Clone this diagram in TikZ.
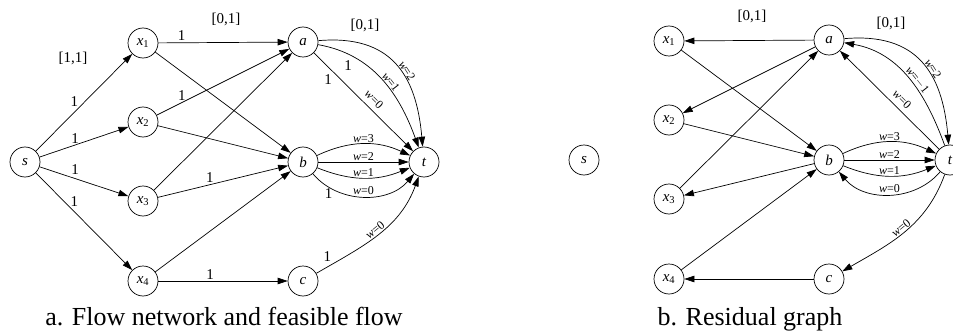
\documentclass[tikz,border=0pt]{standalone}
\usepackage{fontspec}
\setmainfont{Liberation Serif}
\usetikzlibrary{arrows.meta, positioning, calc}

\newcommand{\xn}[1]{\textit{x}\textsubscript{#1}}

\begin{document}
\begin{tikzpicture}[x=1pt, y=1pt,
  vtx/.style={draw, circle, minimum size=30pt, inner sep=0pt, line width=0.7pt, font=\fontsize{15}{15}\selectfont},
  arc/.style={line width=0.7pt, -{Triangle[length=10pt, width=6.5pt]}},
  flw/.style={font=\fontsize{15}{15}\selectfont, inner sep=1.5pt},
  wt/.style={font=\fontsize{12}{12}\selectfont, inner sep=1pt, sloped, above},
  captxt/.style={font=\fontsize{26}{26}\selectfont, anchor=base}]
\useasboundingbox (0,0) rectangle (953,330);

% --- Panel a: flow network and feasible flow ---
\begin{scope}[shift={(0,0)}]
\node[vtx] (s) at (25,168) {\textit{s}};
\node[vtx] (x1) at (143,287) {\xn{1}};
\node[vtx] (x2) at (143,208) {\xn{2}};
\node[vtx] (x3) at (143,129) {\xn{3}};
\node[vtx] (x4) at (143,49) {\xn{4}};
\node[vtx] (a) at (303,288) {\textit{a}};
\node[vtx] (b) at (303,168) {\textit{b}};
\node[vtx] (c) at (303,49) {\textit{c}};
\node[vtx] (t) at (424,168) {\textit{t}};
\node[flw] (lo1) at (73,272) {[1,1]};
\node[flw] (up1) at (226,311) {[0,1]};
\node[flw] (up2) at (365,305) {[0,1]};
\draw[arc] (s) -- node[flw, pos=0.4, above=4pt] {1} (x1);
\draw[arc] (s) -- node[flw, pos=0.4, above] {1} (x2);
\draw[arc] (s) -- node[flw, pos=0.4, above=2pt] {1} (x3);
\draw[arc] (s) -- node[flw, pos=0.4, above=3pt] {1} (x4);
\draw[arc] (x1) -- node[flw, pos=0.18, above] {1} (a);
\draw[arc] (x1) -- (b);
\draw[arc] (x2) -- node[flw, pos=0.19, above] {1} (a);
\draw[arc] (x2) -- (b);
\draw[arc] (x3) -- (a);
\draw[arc] (x3) -- node[flw, pos=0.4, above] {1} (b);
\draw[arc] (x4) -- (b);
\draw[arc] (x4) -- node[flw, pos=0.4, above] {1} (c);
\draw[arc] (a) to[out=5, in=95, looseness=1.25] node[wt, pos=0.58] {\textit{w}=2} (t);
\draw[arc] (a) to[out=-10, in=110] node[flw, pos=0.2, below=5pt] {1} node[wt, pos=0.55] {\textit{w}=1} (t);
\draw[arc] (a) -- node[flw, pos=0.2, below left] {1} node[wt, pos=0.54, above=4pt] {\textit{w}=0} (t);
\draw[arc] (b) to[out=25, in=155] node[wt] {\textit{w}=3} (t);
\draw[arc] (b) -- node[wt] {\textit{w}=2} (t);
\draw[arc] (b) to[out=-22, in=-158] node[wt] {\textit{w}=1} (t);
\draw[arc] (b) to[out=-50, in=-130] node[flw, pos=0.18, below] {1} node[wt] {\textit{w}=0} (t);
\draw[arc] (c) to[out=30, in=-110] node[flw, pos=0.12, above left] {1} node[wt] {\textit{w}=0} (t);
\node[captxt] (capa) at (224,5) {a. Flow network and feasible flow};
\end{scope}

% --- Panel b: residual graph ---
\begin{scope}[shift={(526,2)}]
\node[vtx] (rs) at (58,168) {\textit{s}};
\node[vtx] (rx1) at (143,287) {\xn{1}};
\node[vtx] (rx2) at (143,208) {\xn{2}};
\node[vtx] (rx3) at (143,129) {\xn{3}};
\node[vtx] (rx4) at (143,49) {\xn{4}};
\node[vtx] (ra) at (303,288) {\textit{a}};
\node[vtx] (rb) at (303,168) {\textit{b}};
\node[vtx] (rc) at (303,49) {\textit{c}};
\node[vtx] (rt) at (424,168) {\textit{t}};
\node[flw] (rup1) at (226,312) {[0,1]};
\node[flw] (rup2) at (365,305) {[0,1]};
\draw[arc] (ra) -- (rx1);
\draw[arc] (rx1) -- (rb);
\draw[arc] (ra) -- (rx2);
\draw[arc] (rx2) -- (rb);
\draw[arc] (rx3) -- (ra);
\draw[arc] (rb) -- (rx3);
\draw[arc] (rx4) -- (rb);
\draw[arc] (rc) -- (rx4);
\draw[arc] (ra) to[out=5, in=95, looseness=1.25] node[wt, pos=0.58] {\textit{w}=2} (rt);
\draw[arc] (rt) to[out=110, in=-10] node[wt, pos=0.45] {\textit{w}=$-$1} (ra);
\draw[arc] (rt) -- node[wt, pos=0.44, above=4pt] {\textit{w}=0} (ra);
\draw[arc] (rb) to[out=25, in=155] node[wt] {\textit{w}=3} (rt);
\draw[arc] (rb) -- node[wt] {\textit{w}=2} (rt);
\draw[arc] (rb) to[out=-22, in=-158] node[wt] {\textit{w}=1} (rt);
\draw[arc] (rt) to[out=-130, in=-50] node[wt] {\textit{w}=0} (rb);
\draw[arc] (rt) to[out=-110, in=30] node[wt] {\textit{w}=0} (rc);
\node[captxt] (capb) at (224,3) {b. Residual graph};
\end{scope}
\end{tikzpicture}
\end{document}
